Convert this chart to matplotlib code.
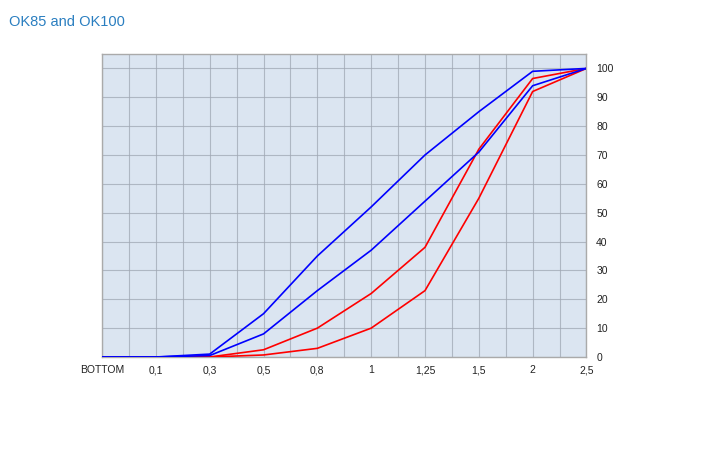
import matplotlib
matplotlib.use('Agg')
import matplotlib.pyplot as plt
from matplotlib.ticker import MultipleLocator

# ============================================================
# DATA
# ============================================================
categories = ["BOTTOM", "0,1", "0,3", "0,5", "0,8", "1", "1,25", "1,5", "2", "2,5"]

red_upper = [0, 0, 0, 2.5, 10, 22, 38, 72, 96.5, 100]
red_lower = [0, 0, 0, 0.7, 3, 10, 23, 55, 92, 100]
blue_upper = [0, 0, 1, 15, 35, 52, 70, 85, 99, 100]
blue_lower = [0, 0, 0.5, 8, 23, 37, 54, 71, 94, 100]

y_ticks = list(range(0, 101, 10))

# ============================================================
# PLOT
# ============================================================
plt.rcParams['font.family'] = ['Liberation Sans', 'DejaVu Sans']

fig = plt.figure(figsize=(7.19, 4.61), dpi=100)
ax = fig.add_axes([0.1419, 0.2256, 0.6738, 0.6573])
ax.set_facecolor('#dbe5f1')

x = list(range(len(categories)))
for series in (red_upper, red_lower):
    ax.plot(x, series, color='#ff0000', linewidth=1.2, zorder=3)
for series in (blue_upper, blue_lower):
    ax.plot(x, series, color='#0000ff', linewidth=1.2, zorder=4)

ax.set_xlim(0, len(categories) - 1)
ax.set_ylim(0, 105)
ax.set_xticks(x)
ax.set_xticklabels(categories)
ax.xaxis.set_minor_locator(MultipleLocator(0.5))
ax.set_yticks(y_ticks)

ax.yaxis.tick_right()
ax.tick_params(axis='both', which='both', length=0, labelsize=7.5,
               colors='#222222')
ax.tick_params(axis='x', pad=6)
ax.tick_params(axis='y', pad=7)

ax.grid(True, which='both', axis='x', color='#a0a8b4', linewidth=0.8, alpha=0.75)
ax.grid(True, which='major', axis='y', color='#a0a8b4', linewidth=0.8, alpha=0.75)
ax.set_axisbelow(True)

for side in ('top', 'left', 'right', 'bottom'):
    ax.spines[side].set_color('#aaaaaa')
    ax.spines[side].set_linewidth(1.0)

fig.text(0.0125, 0.953, "OK85 and OK100", color='#2a7ec0', fontsize=10.5,
         ha='left', va='center')

fig.savefig('out.png', dpi=100)
